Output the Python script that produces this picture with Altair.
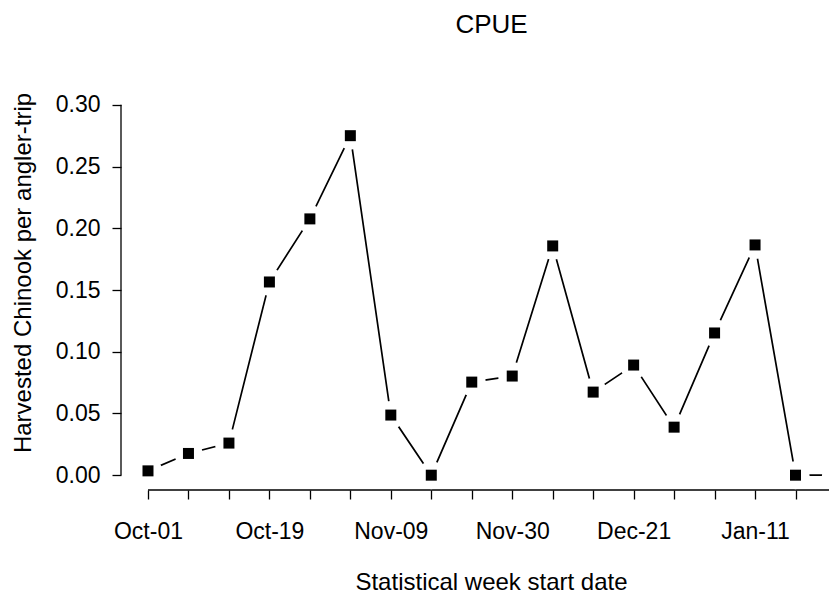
import altair as alt
import pandas as pd

# ---- data ----
week_labels = ["Oct-01", "Oct-05", "Oct-12", "Oct-19", "Oct-26", "Nov-02",
               "Nov-09", "Nov-16", "Nov-23", "Nov-30", "Dec-07", "Dec-14",
               "Dec-21", "Dec-28", "Jan-04", "Jan-11", "Jan-18", "Jan-25"]
week_index = list(range(1, 19))
cpue = [0.0035, 0.0176, 0.026, 0.1565, 0.2076, 0.275, 0.0487, 0.0, 0.0754,
        0.0803, 0.1857, 0.0673, 0.0892, 0.0389, 0.1152, 0.1865, 0.0, 0.0]
labeled_every = 3
y_ticks = [0.0, 0.05, 0.10, 0.15, 0.20, 0.25, 0.30]
main_title = "CPUE"
x_title = "Statistical week start date"
y_title = "Harvested Chinook per angler-trip"

FONT = "Liberation Sans"
W, H = 716, 400

df = pd.DataFrame({"week": week_index, "cpue": cpue})

xscale = alt.Scale(domain=[0.333, 18.025], nice=False, zero=False)
yscale = alt.Scale(domain=[-0.012, 0.312], nice=False, zero=False)

arr = "[" + ",".join("'%s'" % s for s in week_labels) + "]"
label_expr = "(datum.value - 1) %% %d == 0 ? %s[datum.value - 1] : ''" % (labeled_every, arr)

xaxis = alt.Axis(values=week_index, labelExpr=label_expr, title=None, domain=False,
                 grid=False, tickSize=9, tickColor="black", tickWidth=1.3,
                 labelFontSize=23, labelFont=FONT, labelColor="black",
                 labelPadding=21, labelFlush=False, labelOverlap=False)
yaxis = alt.Axis(values=y_ticks, format=".2f", title=None, domain=False, grid=False,
                 tickSize=9, tickColor="black", tickWidth=1.3, labelFontSize=23,
                 labelFont=FONT, labelColor="black", labelPadding=12,
                 labelFlush=False, labelOverlap=False)

X = alt.X("week:Q", scale=xscale, axis=xaxis, title=None)
Y = alt.Y("cpue:Q", scale=yscale, axis=yaxis, title=None)

base = alt.Chart(df)

line = base.mark_line(color="black", strokeWidth=1.7).encode(x=X, y=Y)
gaps = base.mark_point(shape="circle", filled=True, color="white", opacity=1,
                       size=784, strokeWidth=0).encode(x=X, y=Y)
pts = base.mark_point(shape="square", filled=True, color="black", opacity=1,
                      size=121, strokeWidth=0).encode(x=X, y=Y)

# axis lines spanning first to last tick (R style)
xrule_df = pd.DataFrame({"week": [week_index[0]], "w1": [week_index[-1]]})
xrule = alt.Chart(xrule_df).mark_rule(color="black", strokeWidth=1.3).encode(
    x=X, x2="w1:Q", y=alt.value(H),
)
yrule_df = pd.DataFrame({"cpue": [y_ticks[0]], "c1": [y_ticks[-1]]})
yrule = alt.Chart(yrule_df).mark_rule(color="black", strokeWidth=1.3).encode(
    y=Y, y2="c1:Q", x=alt.value(0),
)

t_main = alt.Chart(pd.DataFrame({"t": [main_title]})).mark_text(
    font=FONT, fontSize=26, color="black", align="center", baseline="alphabetic"
).encode(text="t:N", x=alt.value(370.5), y=alt.value(-57))
t_x = alt.Chart(pd.DataFrame({"t": [x_title]})).mark_text(
    font=FONT, fontSize=24, color="black", align="center", baseline="alphabetic"
).encode(text="t:N", x=alt.value(370.5), y=alt.value(500))
t_y = alt.Chart(pd.DataFrame({"t": [y_title]})).mark_text(
    font=FONT, fontSize=24, color="black", align="center", baseline="alphabetic",
    angle=270
).encode(text="t:N", x=alt.value(-90), y=alt.value(183))

chart = alt.layer(xrule, yrule, line, gaps, pts, t_main, t_x, t_y).properties(
    width=W, height=H,
    autosize=alt.AutoSizeParams(type="none"),
    padding={"left": 113, "top": 82, "right": -8, "bottom": 104},
    background="white",
).configure_view(stroke=None)

chart.save("out.html", embed_options={"renderer": "svg", "actions": False})
